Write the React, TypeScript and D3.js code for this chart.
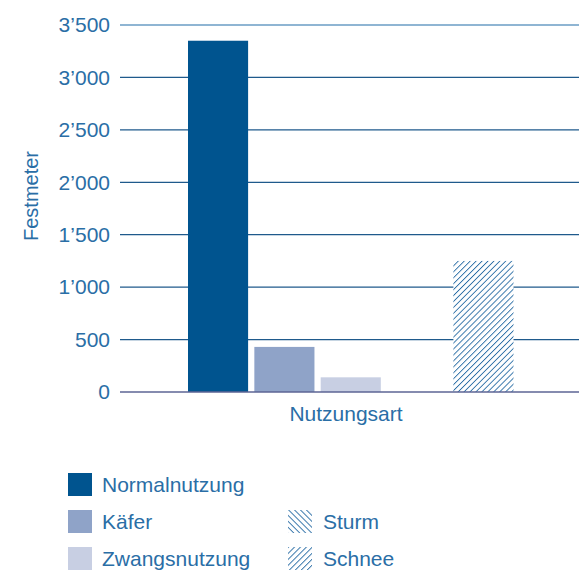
import React from "react";
import * as d3 from "d3";

const categories = ["Normalnutzung", "Käfer", "Zwangsnutzung", "Sturm", "Schnee"];
const values = [3350, 430, 140, 0, 1250];
const yTicks = [0, 500, 1000, 1500, 2000, 2500, 3000, 3500];
const fills = ["#00548f", "#8fa3c8", "#c8cfe3", "url(#sturm)", "url(#schnee)"];
const legendLeft = ["Normalnutzung", "Käfer", "Zwangsnutzung"];
const legendRight = ["Sturm", "Schnee"];

const W = 579, H = 570;
const font = "'Liberation Sans', Arial, sans-serif";
const textColor = "#2a6ea6";

export default function App() {
  const y = d3.scaleLinear().domain([0, 3500]).range([392, 25]);
  const x = d3.scaleBand().domain(categories).range([188, 513.5]).paddingInner(0.094).paddingOuter(0);
  const loc = d3.formatLocale({ decimal: ".", thousands: "’", grouping: [3], currency: ["", ""] });
  const fmt = loc.format(",d");
  return (
    <svg width={W} height={H} style={{ position: "absolute", left: 0, top: 0 }} fontFamily={font}>
      <defs>
        <pattern id="schnee" patternUnits="userSpaceOnUse" width="4.2" height="4.2" patternTransform="rotate(45)">
          <rect width="4.2" height="4.2" fill="#fff" />
          <line x1="0" y1="0" x2="0" y2="4.2" stroke="#2a6ea6" strokeWidth="1.8" />
        </pattern>
        <pattern id="sturm" patternUnits="userSpaceOnUse" width="4.2" height="4.2" patternTransform="rotate(-45)">
          <rect width="4.2" height="4.2" fill="#fff" />
          <line x1="0" y1="0" x2="0" y2="4.2" stroke="#2a6ea6" strokeWidth="1.8" />
        </pattern>
      </defs>
      {yTicks.map((t, i) => (
        <g key={t}>
          {t !== 0 && (
            <line x1={120} x2={W} y1={y(t)} y2={y(t)} stroke={i === yTicks.length - 1 ? "#6a9cc4" : "#1f5a8c"} strokeWidth={1.3} />
          )}
          <text x={110} y={y(t)} dy="0.35em" textAnchor="end" fontSize={21} fill={textColor}>{fmt(t)}</text>
        </g>
      ))}
      {categories.map((c, i) => (
        values[i] > 0 ? (
          <rect key={c} x={x(c)} width={x.bandwidth()} y={y(values[i])} height={y(0) - y(values[i])} fill={fills[i]} />
        ) : null
      ))}
      <line x1={120} x2={W} y1={y(0)} y2={y(0)} stroke="#5d6595" strokeWidth={1.5} />
      <text x={346} y={421} textAnchor="middle" fontSize={21} fill={textColor}>Nutzungsart</text>
      <text transform={`translate(38,${196}) rotate(-90)`} textAnchor="middle" fontSize={20} fill={textColor}>Festmeter</text>
      {legendLeft.map((l, i) => (
        <g key={l} transform={`translate(68,${473 + i * 37})`}>
          <rect width={24} height={23} fill={fills[i]} />
          <text x={34} y={12} dy="0.35em" fontSize={21} fill={textColor}>{l}</text>
        </g>
      ))}
      {legendRight.map((l, i) => (
        <g key={l} transform={`translate(288,${510 + i * 37})`}>
          <rect width={24} height={23} fill={fills[3 + i]} />
          <text x={35} y={12} dy="0.35em" fontSize={21} fill={textColor}>{l}</text>
        </g>
      ))}
    </svg>
  );
}
